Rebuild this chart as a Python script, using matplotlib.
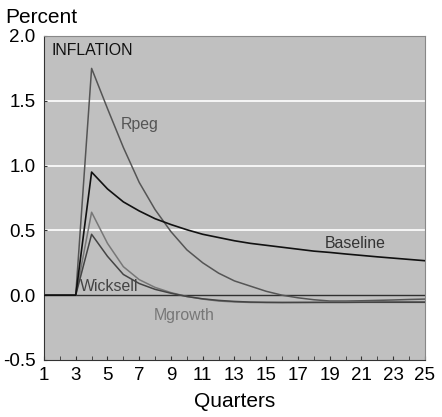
import matplotlib
matplotlib.use("Agg")
import matplotlib.pyplot as plt

plt.rcParams['font.family'] = ['Liberation Sans', 'DejaVu Sans']

quarters = list(range(1, 26))
baseline = [0, 0, 0, 0.95, 0.82, 0.72, 0.65, 0.59, 0.545, 0.505, 0.47, 0.445, 0.42,
            0.40, 0.385, 0.37, 0.355, 0.34, 0.33, 0.318, 0.307, 0.296, 0.286, 0.276, 0.266]
rpeg = [0, 0, 0, 1.75, 1.44, 1.14, 0.87, 0.66, 0.49, 0.35, 0.25, 0.17, 0.11,
        0.07, 0.03, 0.0, -0.02, -0.035, -0.045, -0.045, -0.043, -0.04, -0.037, -0.033, -0.03]
mgrowth = [0, 0, 0, 0.64, 0.40, 0.22, 0.12, 0.06, 0.02, -0.01, -0.03, -0.045, -0.052,
           -0.056, -0.057, -0.057, -0.056, -0.055, -0.054, -0.053, -0.052, -0.051, -0.05, -0.05, -0.05]
wicksell = [0, 0, 0, 0.47, 0.30, 0.16, 0.09, 0.045, 0.015, -0.01, -0.028, -0.04, -0.048,
            -0.053, -0.055, -0.056, -0.056, -0.056, -0.056, -0.056, -0.055, -0.055, -0.055, -0.055, -0.055]

fig = plt.figure(figsize=(4.42, 4.17), dpi=100)
ax = fig.add_axes([0.0995, 0.1367, 0.862, 0.777])
ax.set_facecolor('#c0c0c0')

# white grid lines and dark zero line
for y in [0.5, 1.0, 1.5]:
    ax.axhline(y, color='white', lw=1.2, zorder=1)
ax.axhline(0, color='#303030', lw=1.0, zorder=2)

ax.plot(quarters, rpeg, color='#555555', lw=1.1, zorder=3)
ax.plot(quarters, mgrowth, color='#777777', lw=1.1, zorder=3)
ax.plot(quarters, wicksell, color='#444444', lw=1.1, zorder=3)
ax.plot(quarters, baseline, color='#111111', lw=1.2, zorder=4)

ax.text(1.5, 1.89, 'INFLATION', fontsize=11.4, color='#111111', va='center')
ax.text(5.85, 1.32, 'Rpeg', fontsize=11.4, color='#555555', va='center')
ax.text(18.7, 0.40, 'Baseline', fontsize=11.4, color='#333333', va='center')
ax.text(3.27, 0.065, 'Wicksell', fontsize=11.4, color='#444444', va='center')
ax.text(7.93, -0.155, 'Mgrowth', fontsize=11.4, color='#777777', va='center')

ax.set_xlim(1, 25)
ax.set_ylim(-0.5, 2.0)
ax.set_xticks(range(1, 26, 2))
ax.set_xticks(range(1, 26), minor=True)
ax.set_yticks([-0.5, 0, 0.5, 1.0, 1.5, 2.0])
ax.set_yticklabels(['-0.5', '0.0', '0.5', '1.0', '1.5', '2.0'])
ax.tick_params(axis='x', which='both', direction='in', length=3, labelsize=13.5, pad=5, color='#333333')
ax.tick_params(axis='y', direction='in', length=2.5, labelsize=13.5, pad=6, color='#333333')
for s in ['top', 'right']:
    ax.spines[s].set_color('#888888')
for s in ['left', 'bottom']:
    ax.spines[s].set_color('#333333')

ax.set_xlabel('Quarters', fontsize=15, labelpad=6)
fig.text(0.012, 0.958, 'Percent', fontsize=15, va='center', ha='left')

fig.savefig('out.png', dpi=100)
